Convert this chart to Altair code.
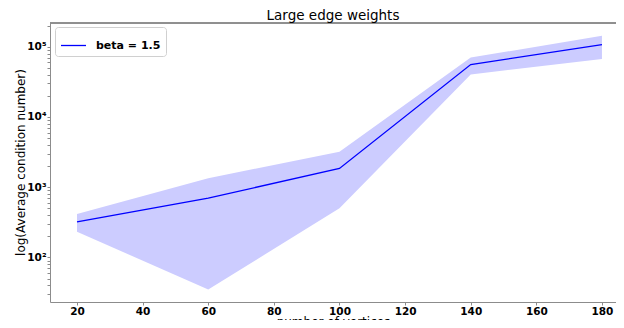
import altair as alt
import pandas as pd

vertices = [20, 60, 100, 140, 180]
cond_mean = [320, 700, 1850, 55700, 107000]
cond_upper = [416, 1340, 3200, 70000, 143000]
cond_lower = [232, 35, 500, 40400, 67000]
series_name = "beta = 1.5"

x_ticks = [20, 40, 60, 80, 100, 120, 140, 160, 180]
y_major = [100, 1000, 10000, 100000]
y_minor = [30, 40, 50, 60, 70, 80, 90,
           200, 300, 400, 500, 600, 700, 800, 900,
           2000, 3000, 4000, 5000, 6000, 7000, 8000, 9000,
           20000, 30000, 40000, 50000, 60000, 70000, 80000, 90000, 200000]

df = pd.DataFrame({
    "n": vertices,
    "mean": cond_mean,
    "upper": cond_upper,
    "lower": cond_lower,
    "series": [series_name] * len(vertices),
})

FONT = "DejaVu Sans"
GRAY = "#8c8c8c"
PLOT_W = 566
PLOT_H = 279

xs = alt.Scale(domain=[11.77, 184.28], nice=False, zero=False)
ys = alt.Scale(type="log", domain=[23.2, 217800], nice=False)

x_enc = alt.X("n:Q", scale=xs, axis=alt.Axis(
    values=x_ticks, title="number of vertices", grid=False,
    labelFontWeight="bold", labelFontSize=10.5, labelFont=FONT, labelColor="black",
    labelPadding=1, tickSize=3, tickColor=GRAY, domainColor=GRAY,
    titleFont=FONT, titleFontSize=12, titleFontWeight="normal", titleColor="black",
    titlePadding=0))

label_expr = ("datum.value == 100 ? '10²' : datum.value == 1000 ? '10³' : "
              "datum.value == 10000 ? '10⁴' : datum.value == 100000 ? '10⁵' : ''")

y_axis = alt.Axis(
    values=y_major + y_minor, labelExpr=label_expr, title="log(Average condition number)",
    grid=False, labelOverlap=False, labelFontWeight="bold", labelFontSize=10.5, labelFont=FONT,
    labelColor="black", labelPadding=1, tickSize=3, tickColor=GRAY, domainColor=GRAY,
    titleFont=FONT, titleFontSize=12, titleFontWeight="normal", titleColor="black",
    titleX=-30, titleY=139, titleBaseline="middle", titleAlign="center", titleAngle=270)

base = alt.Chart(df)

band = base.mark_area(color="#ccccff", opacity=1).encode(
    x=x_enc,
    y=alt.Y("lower:Q", scale=ys, axis=y_axis),
    y2="upper:Q",
)

line = base.mark_line(strokeWidth=1.3).encode(
    x=x_enc,
    y=alt.Y("mean:Q", scale=ys, axis=y_axis),
    color=alt.Color("series:N", scale=alt.Scale(range=["#0000ff"]),
                    legend=alt.Legend(title=None, orient="none", legendX=5, legendY=4)),
)

top_spine = base.mark_rule(color=GRAY, strokeWidth=1).encode(
    x=alt.value(0), x2=alt.value(PLOT_W), y=alt.value(0)
)

chart = alt.layer(band, line, top_spine).properties(
    width=PLOT_W, height=PLOT_H,
    autosize=alt.AutoSizeParams(type="none"),
    padding={"left": 42, "top": 15, "right": 0, "bottom": 18},
    title=alt.Title("Large edge weights", fontSize=13.5, fontWeight="normal",
                    font=FONT, color="black", offset=-2, anchor="middle",
                    frame="group"),
).configure_view(stroke=None).configure_legend(
    padding=5, cornerRadius=3, fillColor="white", strokeColor="#d0d0d0",
    labelFont=FONT, labelFontSize=11, labelFontWeight="bold", labelColor="black",
    symbolType="stroke", symbolSize=625, symbolStrokeWidth=1.3, labelOffset=9,
)

chart.save("out.html", embed_options={"renderer": "svg", "actions": False})
